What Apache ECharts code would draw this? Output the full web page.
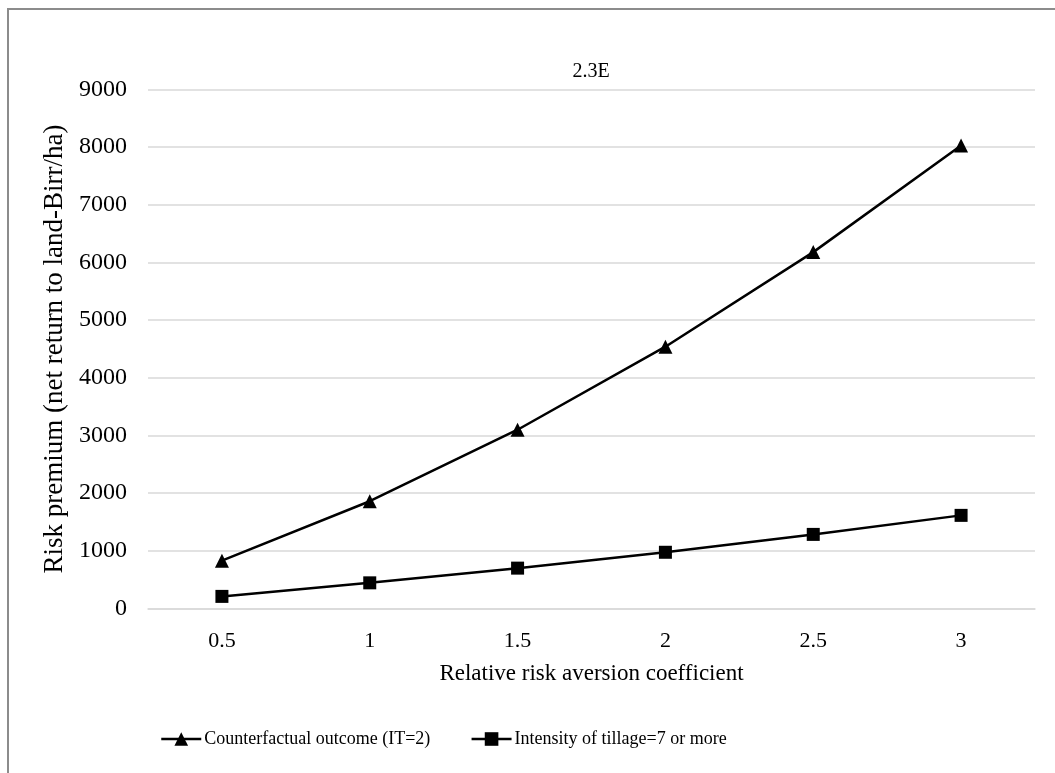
<!DOCTYPE html>
<html>
<head>
<meta charset="utf-8">
<script src="https://cdn.jsdelivr.net/npm/echarts@6/dist/echarts.min.js"></script>
<style>
html,body{margin:0;padding:0;background:#fff;}
#frame{position:absolute;left:7px;top:8px;width:1100px;height:800px;border-left:2px solid #8c8c8c;border-top:2px solid #8c8c8c;}
#chart{position:absolute;left:0;top:0;width:1055px;height:773px;}
</style>
</head>
<body>
<div id="frame"></div>
<div id="chart"></div>
<script>
const titleText = '2.3E';
const categories = ['0.5', '1', '1.5', '2', '2.5', '3'];
const seriesNames = ['Counterfactual outcome (IT=2)', 'Intensity of tillage=7 or more'];
const counterfactual = [830, 1860, 3100, 4540, 6180, 8030];
const tillage7 = [210, 445, 700, 975, 1285, 1615];
const xAxisName = 'Relative risk aversion coefficient';
const yAxisName = 'Risk premium (net return to land-Birr/ha)';

const font = 'Liberation Serif, Times New Roman, serif';
const chart = echarts.init(document.getElementById('chart'), null, {renderer: 'canvas'});
chart.setOption({
  backgroundColor: 'transparent',
  animation: false,
  title: {
    text: titleText, left: 591, top: 62, textAlign: 'center', padding: 0,
    textStyle: {fontFamily: font, fontSize: 20, fontWeight: 'normal', color: '#000'}
  },
  grid: {left: 148, right: 20, top: 89.5, bottom: 164.5},
  legend: {
    left: 160, top: 730, itemWidth: 40, itemHeight: 17, itemGap: 40, padding: 0,
    lineStyle: {width: 2.5, color: '#000'},
    textStyle: {fontFamily: font, fontSize: 18, color: '#000', padding: [0,0,0,-2]},
    data: seriesNames
  },
  xAxis: {
    type: 'category', data: categories, boundaryGap: true,
    name: xAxisName, nameLocation: 'middle', nameGap: 54,
    nameTextStyle: {fontFamily: font, fontSize: 23, color: '#000'},
    axisLine: {lineStyle: {color: '#d9d9d9', width: 1.5}},
    axisTick: {show: false},
    axisLabel: {fontFamily: font, fontSize: 22, color: '#000', margin: 22}
  },
  yAxis: {
    type: 'value', min: 0, max: 9000, interval: 1000,
    name: yAxisName, nameLocation: 'middle', nameGap: 78,
    nameTextStyle: {fontFamily: font, fontSize: 27, color: '#000'},
    axisLine: {show: false}, axisTick: {show: false},
    axisLabel: {fontFamily: font, fontSize: 24, color: '#000', margin: 21, formatter: v => String(v)},
    splitLine: {lineStyle: {color: '#d9d9d9', width: 1.5}}
  },
  series: [
    {
      name: seriesNames[0], type: 'line', data: counterfactual,
      symbol: 'triangle', symbolSize: 14,
      lineStyle: {color: '#000', width: 2.5}, itemStyle: {color: '#000'}
    },
    {
      name: seriesNames[1], type: 'line', data: tillage7,
      symbol: 'rect', symbolSize: 13,
      lineStyle: {color: '#000', width: 2.5}, itemStyle: {color: '#000'}
    }
  ]
});
</script>
</body>
</html>
